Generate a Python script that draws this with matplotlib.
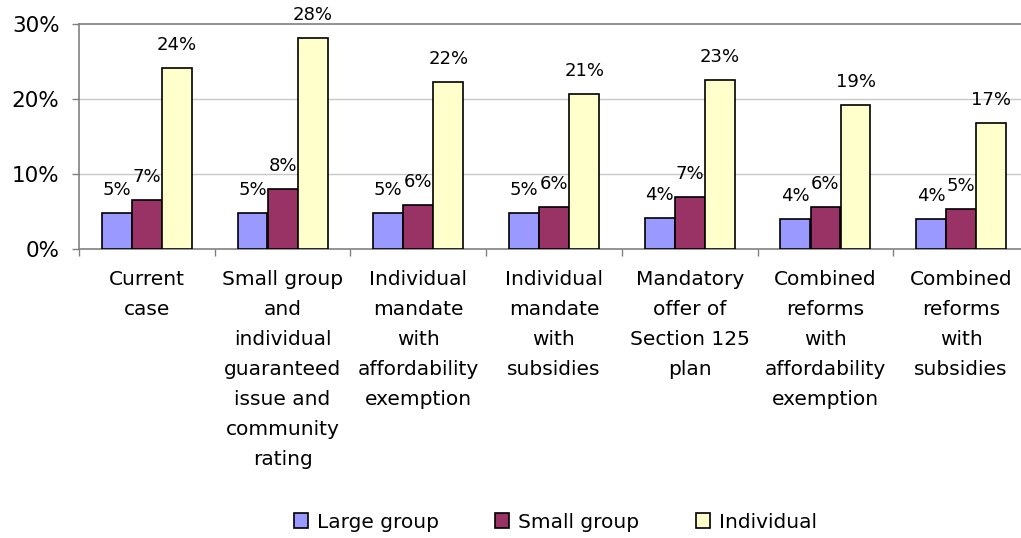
import numpy as np
import matplotlib.pyplot as plt
from matplotlib.patches import Patch

plt.rcParams['font.family'] = ['DejaVu Sans']

categories = [
    "Current\ncase",
    "Small group\nand\nindividual\nguaranteed\nissue and\ncommunity\nrating",
    "Individual\nmandate\nwith\naffordability\nexemption",
    "Individual\nmandate\nwith\nsubsidies",
    "Mandatory\noffer of\nSection 125\nplan",
    "Combined\nreforms\nwith\naffordability\nexemption",
    "Combined\nreforms\nwith\nsubsidies",
]
series_names = ["Large group", "Small group", "Individual"]
large_group = [0.048, 0.048, 0.048, 0.048, 0.042, 0.040, 0.040]
small_group = [0.066, 0.080, 0.059, 0.056, 0.069, 0.056, 0.054]
individual = [0.242, 0.282, 0.223, 0.207, 0.226, 0.192, 0.168]
y_ticks = [0.0, 0.1, 0.2, 0.3]

colors = ["#9999FF", "#993366", "#FFFFCC"]

fig = plt.figure(figsize=(10.21, 5.38), dpi=100)
ax = fig.add_axes([79 / 1021, 1 - 249 / 538, 950 / 1021, 225 / 538])

x = np.arange(len(categories))
width = 0.22
offsets = [-0.222, 0.0, 0.222]

for vals, off, col in zip([large_group, small_group, individual], offsets, colors):
    bars = ax.bar(x + off, vals, width, color=col, edgecolor="black", linewidth=1.2, zorder=3)
    for b, v in zip(bars, vals):
        ax.annotate(f"{v:.0%}", (b.get_x() + b.get_width() / 2, v),
                    xytext=(0, 10), textcoords="offset points",
                    ha="center", va="bottom", fontsize=13, zorder=4)

ax.set_xlim(-0.5, len(categories) - 0.5)
ax.set_ylim(0, 0.30)
ax.set_yticks(y_ticks)
ax.set_yticklabels([f"{t:.0%}" for t in y_ticks], fontsize=15.5)
ax.tick_params(axis="y", length=5, width=1, color="#808080", pad=9)

# category labels at centres, tick marks at boundaries
ax.set_xticks(x)
ax.set_xticklabels(categories, fontsize=14.5, linespacing=1.74, va="top")
ax.tick_params(axis="x", which="major", length=0, pad=15)
ax.set_xticks(np.arange(-0.5, len(categories), 1.0), minor=True)
ax.tick_params(axis="x", which="minor", length=5, width=1, color="#808080")

for t in [0.1, 0.2]:
    ax.axhline(t, color="#C8C8C8", linewidth=1, zorder=1)

for side in ["left", "bottom", "top"]:
    ax.spines[side].set_color("#808080")
    ax.spines[side].set_linewidth(1.2)
ax.spines["right"].set_visible(False)

handles = [Patch(facecolor=c, edgecolor="black", linewidth=1.2) for c in colors]
fig.legend(handles, series_names, loc="center", bbox_to_anchor=(0.544, 1 - 522 / 538),
           ncol=3, frameon=False, fontsize=14.5, handlelength=0.7, handleheight=0.7,
           handletextpad=0.45, columnspacing=2.8)

fig.savefig("out.png", dpi=100)
